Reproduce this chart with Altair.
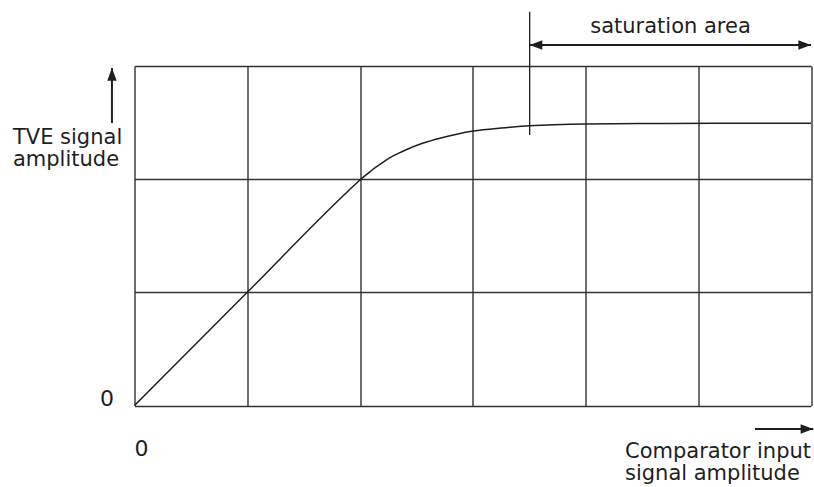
import altair as alt
import pandas as pd

# Transfer curve: comparator input (x) vs TVE output amplitude (y), grid units
curve_x = [0.0, 1.0, 1.9, 2.0, 2.06, 2.118, 2.19, 2.266, 2.34, 2.414, 2.561, 2.709, 2.858, 3.005, 3.25, 3.502, 4.004, 4.749, 5.4, 6.0]
curve_y = [0.0, 1.0, 1.9, 1.993, 2.042, 2.09, 2.14, 2.19, 2.228, 2.262, 2.319, 2.362, 2.397, 2.425, 2.452, 2.471, 2.487, 2.492, 2.494, 2.494]

grid_x = [0, 1, 2, 3, 4, 5, 6]
grid_y = [0, 1, 2, 3]

# Saturation marker and double arrow
sat_start = 3.505
sat_tick_y = [2.39, 3.48]
sat_arrow_y = 3.185
sat_arrow_x = [3.505, 6.0]

# Axis direction arrows
up_arrow_x = -0.2
up_arrow_y = [2.496, 2.982]
right_arrow_y = -0.208
right_arrow_x = [5.503, 6.02]

# Text annotations (multi-line labels use "\n")
center_texts = ["saturation area"]
center_x = [4.754]
center_y = [3.291]

left_texts = ["TVE signal\namplitude", "Comparator input\nsignal amplitude"]
left_x = [-1.078, 4.35]
left_y = [2.311, -0.464]

FONT = "DejaVu Sans"
INK = "#1e1e1e"
GRID = "#333333"

xs = alt.Scale(domain=[0, 6], nice=False, zero=False)
ys = alt.Scale(domain=[0, 3], nice=False, zero=False)

curve_df = pd.DataFrame({"x": curve_x, "y": curve_y})

x_axis = alt.Axis(
    values=grid_x, grid=True, gridColor=GRID, gridWidth=1.4, gridOpacity=1,
    domain=False, ticks=False, title=None,
    labelExpr="datum.value == 0 ? '0' : ''", labelFont=FONT, labelFontSize=22,
    labelColor=INK, labelFlush=False, labelAlign="center", labelBaseline="top",
    labelPadding=33, labelOffset=6.5,
)
y_axis = alt.Axis(
    values=grid_y, grid=True, gridColor=GRID, gridWidth=1.4, gridOpacity=1,
    domain=False, ticks=False, title=None,
    labelExpr="datum.value == 0 ? '0' : ''", labelFont=FONT, labelFontSize=22,
    labelColor=INK, labelAlign="right", labelBaseline="middle",
    labelPadding=21, labelOffset=-7.5,
)

curve = alt.Chart(curve_df).mark_line(
    color=INK, strokeWidth=1.5, interpolate="monotone"
).encode(
    x=alt.X("x:Q", scale=xs, axis=x_axis),
    y=alt.Y("y:Q", scale=ys, axis=y_axis),
)

# Line segments (rules) for annotations
seg_df = pd.DataFrame({
    "x": [sat_start, sat_arrow_x[0], up_arrow_x, right_arrow_x[0]],
    "x2": [sat_start, sat_arrow_x[1], up_arrow_x, right_arrow_x[1]],
    "y": [sat_tick_y[0], sat_arrow_y, up_arrow_y[0], right_arrow_y],
    "y2": [sat_tick_y[1], sat_arrow_y, up_arrow_y[1], right_arrow_y],
    "w": [1.3, 2.0, 2.0, 2.0],
})
segs = alt.Chart(seg_df).mark_rule(color=INK).encode(
    x=alt.X("x:Q", scale=xs),
    x2="x2:Q",
    y=alt.Y("y:Q", scale=ys),
    y2="y2:Q",
    strokeWidth=alt.StrokeWidth("w:Q", scale=None, legend=None),
)

# Arrowheads: tip at the point, rotated per direction
heads_df = pd.DataFrame({
    "x": [sat_arrow_x[0], sat_arrow_x[1], up_arrow_x, right_arrow_x[1]],
    "y": [sat_arrow_y, sat_arrow_y, up_arrow_y[1], right_arrow_y],
    "angle": [180, 0, 270, 0],
})
heads = alt.Chart(heads_df).mark_point(
    shape="M0,0L-2,-0.75L-2,0.75Z", filled=True, color=INK, opacity=1, size=160
).encode(
    x=alt.X("x:Q", scale=xs),
    y=alt.Y("y:Q", scale=ys),
    angle=alt.Angle("angle:Q", scale=None),
)

center_df = pd.DataFrame({"x": center_x, "y": center_y, "t": center_texts})
center_lbl = alt.Chart(center_df).mark_text(
    font=FONT, fontSize=21, color=INK, align="center", baseline="alphabetic"
).encode(
    x=alt.X("x:Q", scale=xs), y=alt.Y("y:Q", scale=ys), text="t:N"
)

left_df = pd.DataFrame({"x": left_x, "y": left_y, "t": left_texts})
left_lbl = alt.Chart(left_df).mark_text(
    font=FONT, fontSize=21, color=INK, align="left", baseline="alphabetic",
    lineBreak="\n", lineHeight=22,
).encode(
    x=alt.X("x:Q", scale=xs), y=alt.Y("y:Q", scale=ys), text="t:N"
)

chart = alt.layer(curve, segs, heads, center_lbl, left_lbl).properties(
    width=676.5,
    height=339.5,
    autosize=alt.AutoSizeParams(type="none"),
    padding={"left": 134.5, "top": 66, "right": 3, "bottom": 81.5},
    background="white",
).configure_view(stroke=None)

chart.save("out.html", embed_options={"renderer": "svg", "actions": False})
